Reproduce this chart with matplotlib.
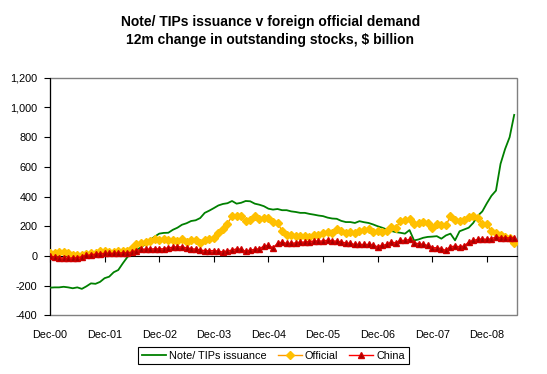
import matplotlib
matplotlib.use('Agg')
import matplotlib.pyplot as plt
from matplotlib.patches import Rectangle

plt.rcParams['font.family'] = ['Liberation Sans', 'DejaVu Sans']

# monthly, Dec-00 .. Jun-09, 12m change in outstanding stocks ($bn)
issuance = [-214, -212, -212, -208, -212, -218, -212, -222, -205, -185,
            -188, -175, -150, -140, -110, -95, -50, -8, 17, 40,
            58, 80, 108, 130, 150, 155, 156, 176, 190, 210,
            220, 235, 240, 255, 290, 305, 322, 340, 350, 355,
            370, 352, 358, 370, 368, 352, 345, 335, 318, 312,
            316, 308, 308, 300, 296, 290, 290, 283, 278, 272,
            268, 258, 252, 250, 236, 228, 228, 222, 234, 227,
            222, 212, 200, 190, 178, 168, 160, 156, 150, 174,
            104, 111, 122, 128, 130, 133, 116, 138, 150, 105,
            166, 178, 190, 222, 270, 300, 355, 405, 440, 620,
            720, 800, 950]

official = [21, 17, 26, 26, 17, 3, 3, 8, 12, 17,
            21, 32, 32, 26, 26, 32, 32, 32, 55, 77,
            88, 93, 100, 111, 106, 111, 106, 106, 102, 111,
            95, 106, 108, 88, 106, 111, 122, 156, 183, 218,
            268, 272, 272, 234, 245, 268, 252, 256, 256, 227,
            223, 167, 138, 138, 133, 133, 133, 129, 138, 144,
            156, 160, 156, 183, 171, 156, 160, 156, 167, 174,
            178, 160, 167, 162, 167, 196, 189, 234, 241, 250,
            216, 223, 227, 223, 189, 218, 205, 205, 268, 239,
            234, 245, 263, 268, 256, 212, 212, 167, 156, 144,
            129, 122, 88]

china = [0, -10, -12, -14, -15, -13, -12, -5, 3, 8,
         12, 15, 17, 17, 18, 20, 21, 21, 26, 35,
         44, 46, 46, 48, 47, 48, 55, 58, 62, 60,
         55, 48, 46, 39, 36, 35, 36, 32, 26, 35,
         38, 48, 44, 32, 39, 44, 48, 66, 71, 55,
         84, 93, 84, 84, 88, 93, 93, 97, 100, 100,
         100, 106, 100, 100, 93, 88, 84, 77, 77, 77,
         77, 71, 62, 71, 77, 93, 88, 104, 104, 111,
         88, 82, 77, 71, 55, 55, 48, 37, 62, 66,
         62, 66, 93, 104, 111, 115, 111, 115, 129, 122,
         122, 122, 122]

tick_labels = ['Dec-00', 'Dec-01', 'Dec-02', 'Dec-03', 'Dec-04',
               'Dec-05', 'Dec-06', 'Dec-07', 'Dec-08']

x = list(range(len(issuance)))

fig = plt.figure(figsize=(5.47, 3.74), dpi=100)
ax = fig.add_axes([0.0914, 0.157, 0.8536, 0.635])

ax.plot(x, issuance, color='#008000', lw=1.3, label='Note/ TIPs issuance', zorder=3)
ax.plot(x, official, color='#FF9900', lw=1.0, marker='D', ms=4.2,
        mfc='#FFC000', mec='#FFC000', label='Official', zorder=4)
ax.plot(x, china, color='#FF0000', lw=1.0, marker='^', ms=4.5,
        mfc='#A00000', mec='#D00000', label='China', zorder=5)

ax.set_xlim(0, 102.6)
ax.set_ylim(-400, 1200)
ax.set_yticks(range(-400, 1201, 200))
ax.set_yticklabels(['{:,}'.format(v) for v in range(-400, 1201, 200)])
ax.set_xticks(range(0, 97, 12))
ax.set_xticklabels(tick_labels)

# category axis crosses at zero, plot area framed in grey
ax.spines['bottom'].set_position(('data', 0))
ax.spines['bottom'].set_color('black')
ax.spines['bottom'].set_zorder(2)
ax.spines['top'].set_visible(False)
ax.spines['right'].set_visible(False)
ax.add_patch(Rectangle((0, 0), 1, 1, transform=ax.transAxes, fill=False,
                       edgecolor='#808080', lw=1.0, zorder=1, clip_on=False))
ax.spines['left'].set_color('black')

ax.tick_params(axis='y', direction='out', length=4, labelsize=7.8, pad=5)
ax.tick_params(axis='x', direction='out', length=4, labelsize=7.8, pad=49)

fig.text(0.494, 0.941, 'Note/ TIPs issuance v foreign official demand',
         ha='center', va='center', fontsize=10, fontweight='bold')
fig.text(0.494, 0.893, '12m change in outstanding stocks, $ billion',
         ha='center', va='center', fontsize=10, fontweight='bold')

leg = fig.legend(loc='center', bbox_to_anchor=(0.5, 0.049), ncol=3, fontsize=7.8,
                 frameon=True, fancybox=False, edgecolor='black', framealpha=1,
                 handlelength=2.2, handletextpad=0.3, columnspacing=1.0,
                 borderpad=0.35, markerscale=0.9)
leg.get_frame().set_linewidth(0.8)

fig.savefig('out.png', dpi=100)
